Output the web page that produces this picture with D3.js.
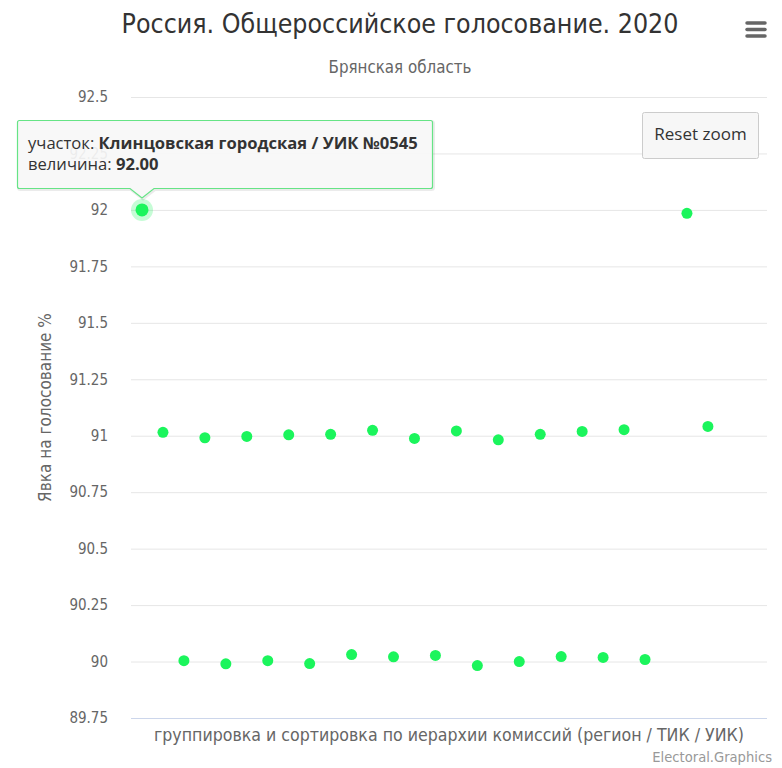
<!DOCTYPE html>
<html>
<head>
<meta charset="utf-8">
<script src="https://cdn.jsdelivr.net/npm/d3@7"></script>
<style>
  body { margin: 0; background: #fff; }
  svg text { font-family: 'DejaVu Sans Condensed', sans-serif; }
</style>
</head>
<body>
<svg id="chart" width="782" height="768"></svg>
<script>
// position of each polling station in the commission hierarchy (zoomed window)
const pointIndex = [1, 2, 3, 4, 5, 6, 7, 8, 9, 10, 11, 12, 13, 14, 15, 16, 17, 18, 19, 20, 21, 22, 23, 24, 25, 27, 28];
// turnout, %
const turnout = [92.00, 91.015, 90.004, 90.991, 89.990, 90.997, 90.004, 91.004, 89.991, 91.006, 90.031, 91.024, 90.021,
  90.988, 90.027, 91.021, 89.982, 90.982, 90.000, 91.006, 90.022, 91.019, 90.018, 91.027, 90.009, 91.985, 91.041];
const yTicks = [89.75, 90, 90.25, 90.5, 90.75, 91, 91.25, 91.5, 91.75, 92, 92.25, 92.5];

const hoverIdx = 0;
const hoverName = 'Клинцовская городская / УИК №0545';

const width = 782, height = 768;
const margin = { top: 97, right: 15, bottom: 50, left: 131 };
const innerWidth = width - margin.left - margin.right;
const innerHeight = height - margin.top - margin.bottom;
const dotColor = '#1bf55c';

const svg = d3.select('#chart');

const x = d3.scaleLinear().domain([0.475, 30.82]).range([0, innerWidth]);
const y = d3.scaleLinear().domain([89.75, 92.5]).range([innerHeight, 0]);

// titles
svg.append('text')
  .attr('x', 400).attr('y', 33)
  .attr('text-anchor', 'middle')
  .attr('font-size', '26.5px')
  .attr('fill', '#333')
  .text('Россия. Общероссийское голосование. 2020');

svg.append('text')
  .attr('x', 400).attr('y', 73)
  .attr('text-anchor', 'middle')
  .attr('font-size', '16.8px')
  .attr('fill', '#666')
  .text('Брянская область');

// menu icon
svg.append('g')
  .selectAll('line')
  .data([23, 29.5, 36])
  .enter().append('line')
  .attr('x1', 747).attr('x2', 765)
  .attr('y1', d => d).attr('y2', d => d)
  .attr('stroke', '#666').attr('stroke-width', 3.5)
  .attr('stroke-linecap', 'round');

const g = svg.append('g').attr('transform', `translate(${margin.left},${margin.top})`);

// grid
g.append('g')
  .call(d3.axisLeft(y).tickValues(yTicks).tickSize(-innerWidth).tickFormat(''))
  .call(a => a.select('.domain').remove())
  .call(a => a.selectAll('line').attr('stroke', '#e6e6e6'));

// y labels
const yAxis = g.append('g')
  .call(d3.axisLeft(y).tickValues(yTicks).tickSize(0).tickPadding(23).tickFormat(d => d3.format('')(d)));
yAxis.select('.domain').remove();
yAxis.selectAll('text')
  .attr('font-size', '15px')
  .attr('fill', '#666')
  .attr('font-family', "'DejaVu Sans Condensed', sans-serif");

g.append('text')
  .attr('transform', 'rotate(-90)')
  .attr('x', -innerHeight / 2)
  .attr('y', -80)
  .attr('text-anchor', 'middle')
  .attr('font-size', '17px')
  .attr('fill', '#666')
  .text('Явка на голосование %');

// x axis line
g.append('line')
  .attr('x1', 0).attr('x2', innerWidth)
  .attr('y1', innerHeight + 0.5).attr('y2', innerHeight + 0.5)
  .attr('stroke', '#ccd6eb');

g.append('text')
  .attr('x', innerWidth / 2)
  .attr('y', innerHeight + 23)
  .attr('text-anchor', 'middle')
  .attr('font-size', '17.6px')
  .attr('fill', '#666')
  .text('группировка и сортировка по иерархии комиссий (регион / ТИК / УИК)');

svg.append('text')
  .attr('x', 772).attr('y', 762)
  .attr('text-anchor', 'end')
  .attr('font-size', '14.6px')
  .attr('fill', '#999')
  .text('Electoral.Graphics');

// halo of hovered point
g.append('circle')
  .attr('cx', x(pointIndex[hoverIdx]))
  .attr('cy', y(turnout[hoverIdx]))
  .attr('r', 11)
  .attr('fill', dotColor)
  .attr('opacity', 0.25);

g.selectAll('circle.dot')
  .data(pointIndex)
  .enter().append('circle')
  .attr('class', 'dot')
  .attr('cx', d => x(d))
  .attr('cy', (d, i) => y(turnout[i]))
  .attr('r', (d, i) => i === hoverIdx ? 6.5 : 5.5)
  .attr('fill', dotColor);

// reset zoom button
const btn = svg.append('g').attr('transform', 'translate(642.5,112.5)');
btn.append('rect')
  .attr('width', 116).attr('height', 46).attr('rx', 2)
  .attr('fill', '#f7f7f7').attr('stroke', '#cccccc');
btn.append('text')
  .attr('x', 58).attr('y', 27)
  .attr('text-anchor', 'middle')
  .attr('font-size', '17px')
  .attr('fill', '#333')
  .style('font-family', "'Open Sans', sans-serif")
  .text('Reset zoom');

// tooltip
const px = margin.left + x(pointIndex[hoverIdx]);
const py = margin.top + y(turnout[hoverIdx]);
const tx0 = 17.5, ty0 = 120.5, tx1 = 432.5, ty1 = 188.5;
const tipPath = `M${tx0 + 2},${ty0} H${tx1 - 2} Q${tx1},${ty0} ${tx1},${ty0 + 2} V${ty1 - 2} Q${tx1},${ty1} ${tx1 - 2},${ty1}
  H${px + 12} L${px},${py - 12} L${px - 12},${ty1} H${tx0 + 2} Q${tx0},${ty1} ${tx0},${ty1 - 2} V${ty0 + 2} Q${tx0},${ty0} ${tx0 + 2},${ty0} Z`;

svg.append('path')
  .attr('d', tipPath)
  .attr('transform', 'translate(1,1)')
  .attr('fill', 'none')
  .attr('stroke', '#000')
  .attr('stroke-opacity', 0.08)
  .attr('stroke-width', 3);
svg.append('path')
  .attr('d', tipPath)
  .attr('fill', '#f7f7f7')
  .attr('fill-opacity', 0.92)
  .attr('stroke', '#66e486')
  .attr('stroke-width', 1.2);

const tip = svg.append('text')
  .attr('font-size', '16.6px')
  .attr('fill', '#333')
  .style('font-family', "'Open Sans', sans-serif");
const l1 = tip.append('tspan').attr('x', 28).attr('y', 149);
l1.append('tspan').text('участок: ');
l1.append('tspan').attr('font-weight', 'bold').text(hoverName);
const l2 = tip.append('tspan').attr('x', 28).attr('y', 170);
l2.append('tspan').text('величина: ');
l2.append('tspan').attr('font-weight', 'bold').text(turnout[hoverIdx].toFixed(2));
</script>
</body>
</html>
